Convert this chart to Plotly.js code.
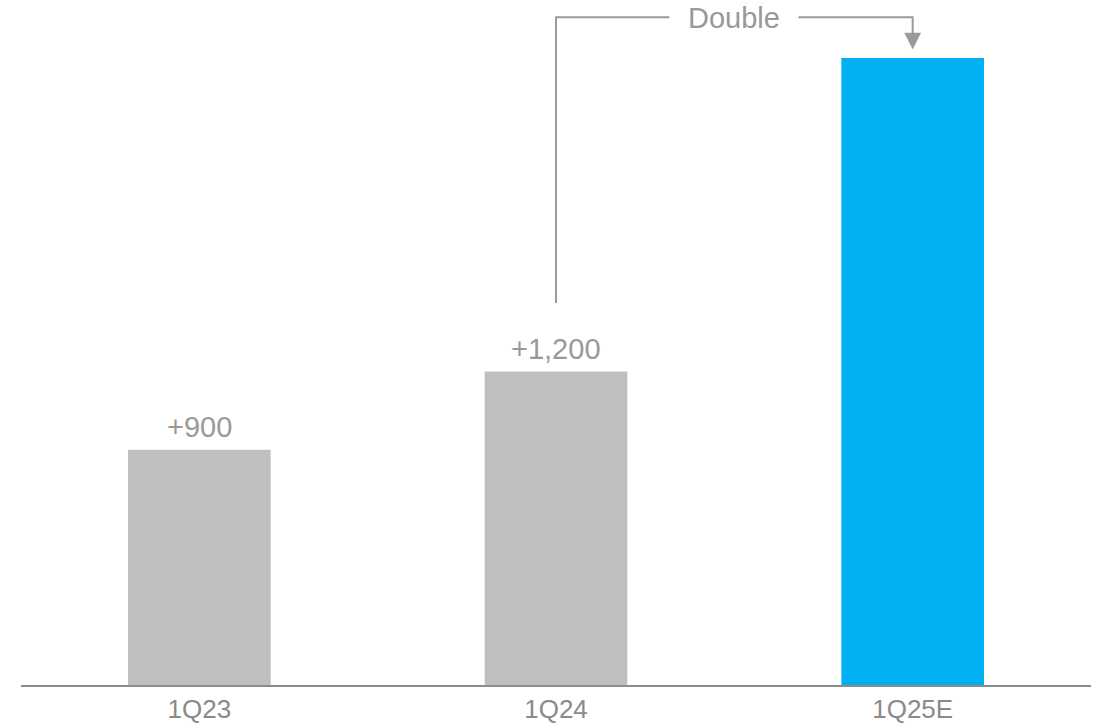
<!DOCTYPE html>
<html>
<head>
<meta charset="utf-8">
<script src="https://cdn.plot.ly/plotly-3.0.1.min.js"></script>
<style>
  html, body { margin: 0; padding: 0; background: #ffffff; }
  #chart { width: 1094px; height: 725px; }
</style>
</head>
<body>
<div id="chart"></div>
<script>
// Quarterly additions, with the 1Q25 estimate doubling 1Q24
const quarters = ['1Q23', '1Q24', '1Q25E'];
const additions = [900, 1200, 2400];
const barColors = ['#bfbfbf', '#bfbfbf', '#00b0f0'];
const showValue = [true, true, false];
const callout = 'Double';

const FONT = 'Arial, "Liberation Sans", sans-serif';
const LABEL_GREY = '#999999';
const LINE_GREY = '#9a9a9a';

const yMax = 2622;

// value labels sitting on top of the reported bars
const valueLabels = quarters
  .map((q, i) => ({
    x: q, y: additions[i], xref: 'x', yref: 'y',
    text: '+' + additions[i].toLocaleString('en-US'),
    showarrow: false, yanchor: 'bottom', yshift: 5,
    font: { family: FONT, size: 29, color: LABEL_GREY }
  }))
  .filter((a, i) => showValue[i]);

// elbow connector from 1Q24 to 1Q25E
const from = 1, to = 2;
const lineBottom = additions[from] + 262;
const lineTop = yMax - 66;
const arrowTip = additions[to] + 34;

const shapes = [
  {
    type: 'path', xref: 'x', yref: 'y',
    path: `M ${from},${lineBottom} L ${from},${lineTop} L ${to},${lineTop} L ${to},${arrowTip + 62}`,
    line: { color: LINE_GREY, width: 2 }
  },
  {
    type: 'path', xref: 'x', yref: 'y',
    xsizemode: 'pixel', xanchor: to,
    ysizemode: 'pixel', yanchor: additions[to],
    path: 'M -8,25 L 8,25 L 0,9 Z',
    fillcolor: LINE_GREY, line: { color: LINE_GREY, width: 0.5 }
  }
];

const calloutLabel = {
  x: (from + to) / 2, y: lineTop, xref: 'x', yref: 'y',
  text: callout, showarrow: false,
  xanchor: 'center', yanchor: 'middle',
  bgcolor: '#ffffff', borderpad: 18, yshift: -1,
  font: { family: FONT, size: 29, color: LABEL_GREY }
};

const trace = {
  type: 'bar',
  x: quarters,
  y: additions,
  marker: { color: barColors, line: { width: 0 } },
  hoverinfo: 'x+y'
};

const layout = {
  width: 1094, height: 725,
  margin: { l: 21, r: 3, t: 0, b: 40 },
  paper_bgcolor: '#ffffff', plot_bgcolor: '#ffffff',
  showlegend: false,
  bargap: 0.6,
  xaxis: {
    type: 'category',
    showline: true, linecolor: '#8c8c8c', linewidth: 2,
    showgrid: false, zeroline: false, ticks: '',
    tickfont: { family: FONT, size: 26, color: '#8a8a8a' },
    ticklabelstandoff: 0
  },
  yaxis: {
    range: [0, yMax], visible: false, showgrid: false, zeroline: false
  },
  shapes: shapes,
  annotations: valueLabels.concat([calloutLabel])
};

Plotly.newPlot('chart', [trace], layout, { displayModeBar: false, staticPlot: true });
</script>
</body>
</html>
